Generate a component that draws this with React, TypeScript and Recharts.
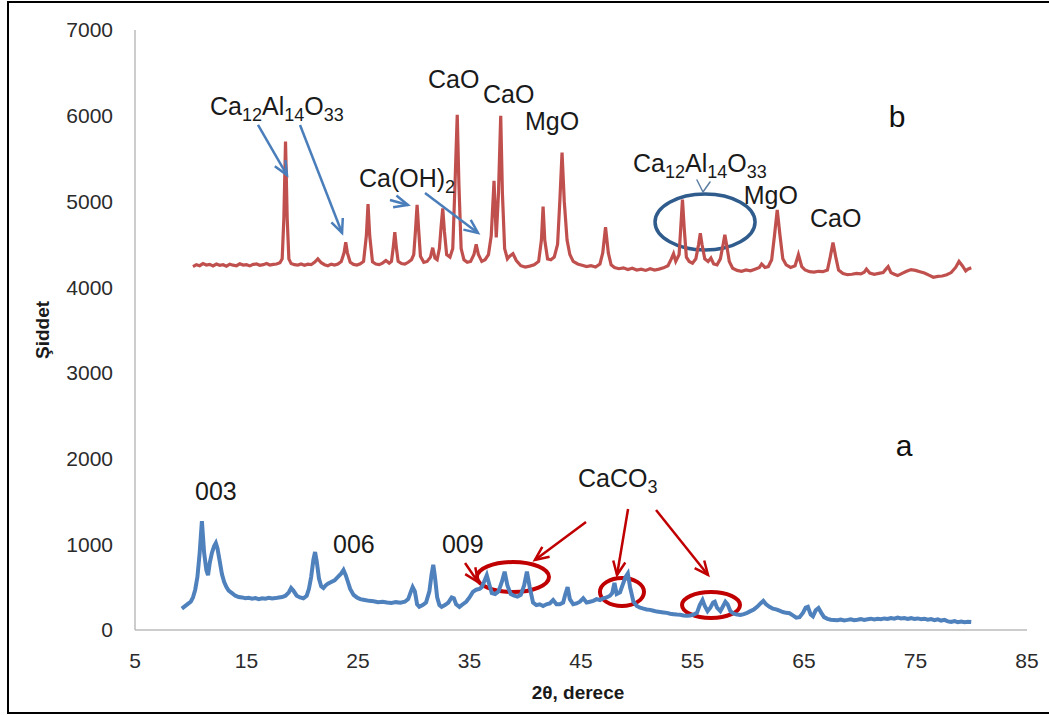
import React from 'react';
import { LineChart, Line, XAxis, YAxis, ReferenceLine, ReferenceDot, ReferenceArea } from 'recharts';

// 2θ (deg), intensity — pattern b (calcined, red)
const patternB: number[][] = [
  [10.2, 4240], [10.5, 4262], [10.8, 4250], [11.1, 4275], [11.4, 4258], [11.7, 4266], [12.0, 4248], [12.3, 4270],
  [12.6, 4255], [12.9, 4262], [13.2, 4245], [13.5, 4268], [13.8, 4256], [14.1, 4250], [14.4, 4272], [14.7, 4258],
  [15.0, 4262], [15.3, 4248], [15.6, 4266], [15.9, 4270], [16.2, 4255], [16.5, 4262], [16.8, 4275], [17.1, 4258],
  [17.4, 4266], [17.7, 4270], [18.0, 4285], [18.2, 4330], [18.35, 4800], [18.5, 5700], [18.65, 4800], [18.8, 4330],
  [19.0, 4275], [19.3, 4262], [19.6, 4258], [19.9, 4270], [20.2, 4255], [20.5, 4268], [20.8, 4262], [21.1, 4290],
  [21.4, 4330], [21.7, 4285], [22.0, 4262], [22.3, 4250], [22.6, 4268], [22.9, 4258], [23.2, 4270], [23.5, 4300],
  [23.75, 4400], [23.9, 4525], [24.05, 4400], [24.3, 4290], [24.6, 4265], [24.9, 4258], [25.2, 4272], [25.5, 4300],
  [25.75, 4600], [25.9, 4970], [26.05, 4600], [26.3, 4295], [26.6, 4270], [26.9, 4262], [27.2, 4280], [27.5, 4310],
  [27.8, 4280], [28.0, 4300], [28.15, 4450], [28.3, 4640], [28.45, 4450], [28.6, 4300], [28.9, 4275], [29.2, 4268],
  [29.5, 4290], [29.8, 4320], [30.0, 4380], [30.15, 4650], [30.3, 4960], [30.45, 4650], [30.6, 4360], [30.9, 4290],
  [31.2, 4300], [31.5, 4350], [31.7, 4460], [31.9, 4340], [32.1, 4320], [32.3, 4450], [32.45, 4700], [32.6, 4920],
  [32.75, 4650], [32.95, 4380], [33.25, 4350], [33.5, 4450], [33.7, 5200], [33.9, 6010], [34.05, 5200], [34.25, 4450],
  [34.5, 4320], [34.8, 4290], [35.1, 4300], [35.4, 4380], [35.6, 4500], [35.8, 4380], [36.1, 4300], [36.4, 4320],
  [36.7, 4380], [36.95, 4600], [37.2, 5240], [37.4, 4580], [37.6, 5100], [37.8, 6000], [37.95, 5100], [38.15, 4450],
  [38.4, 4330], [38.6, 4360], [38.9, 4390], [39.2, 4310], [39.6, 4250], [40.0, 4235], [40.4, 4245], [40.8, 4260],
  [41.2, 4300], [41.45, 4550], [41.6, 4940], [41.75, 4550], [42.0, 4330], [42.3, 4320], [42.6, 4350], [42.9, 4500],
  [43.1, 5000], [43.3, 5570], [43.5, 5000], [43.75, 4550], [44.0, 4380], [44.3, 4300], [44.7, 4270], [45.1, 4255],
  [45.5, 4240], [45.9, 4250], [46.3, 4235], [46.7, 4270], [46.95, 4400], [47.2, 4700], [47.45, 4400], [47.7, 4260],
  [48.0, 4230], [48.4, 4215], [48.8, 4225], [49.2, 4205], [49.6, 4220], [50.0, 4200], [50.4, 4210], [50.8, 4195],
  [51.2, 4215], [51.6, 4200], [52.0, 4210], [52.4, 4225], [52.8, 4250], [53.1, 4330], [53.3, 4390], [53.5, 4300],
  [53.8, 4380], [53.95, 4700], [54.1, 5020], [54.25, 4700], [54.45, 4350], [54.7, 4300], [55.0, 4280], [55.3, 4330],
  [55.55, 4500], [55.7, 4630], [55.85, 4500], [56.1, 4330], [56.4, 4300], [56.65, 4340], [56.9, 4270], [57.2, 4260],
  [57.5, 4330], [57.75, 4500], [57.9, 4610], [58.05, 4500], [58.3, 4300], [58.6, 4220], [59.0, 4195], [59.4, 4185],
  [59.8, 4200], [60.2, 4190], [60.6, 4210], [61.0, 4230], [61.2, 4270], [61.5, 4230], [61.8, 4240], [62.1, 4320],
  [62.35, 4600], [62.6, 4900], [62.85, 4600], [63.1, 4330], [63.4, 4260], [63.8, 4230], [64.2, 4250], [64.5, 4380],
  [64.8, 4240], [65.1, 4200], [65.5, 4180], [65.9, 4175], [66.3, 4185], [66.7, 4180], [67.1, 4200], [67.35, 4350],
  [67.6, 4520], [67.85, 4350], [68.1, 4200], [68.5, 4160], [68.9, 4145], [69.3, 4150], [69.7, 4160], [70.1, 4155],
  [70.4, 4175], [70.6, 4210], [70.9, 4165], [71.3, 4150], [71.7, 4160], [72.1, 4170], [72.35, 4210], [72.55, 4240],
  [72.8, 4170], [73.1, 4150], [73.4, 4135], [73.8, 4160], [74.2, 4185], [74.6, 4205], [75.0, 4195], [75.4, 4180],
  [75.8, 4165], [76.2, 4140], [76.6, 4115], [77.0, 4125], [77.4, 4130], [77.8, 4145], [78.2, 4170], [78.6, 4230],
  [78.9, 4300], [79.2, 4250], [79.5, 4190], [79.7, 4210], [80.0, 4225],
];

// 2θ (deg), intensity — pattern a (raw, blue)
const patternA: number[][] = [
  [9.2, 250], [9.4, 270], [9.6, 290], [9.8, 310], [10.0, 330], [10.2, 380], [10.4, 470], [10.6, 620],
  [10.8, 900], [11.0, 1270], [11.2, 900], [11.4, 700], [11.55, 640], [11.7, 780], [11.9, 900], [12.1, 980],
  [12.25, 1015], [12.4, 950], [12.6, 800], [12.8, 650], [13.0, 560], [13.2, 500], [13.4, 460], [13.7, 430],
  [14.0, 400], [14.3, 385], [14.6, 380], [14.9, 370], [15.2, 375], [15.5, 365], [15.8, 372], [16.1, 360],
  [16.4, 370], [16.7, 365], [17.0, 375], [17.3, 368], [17.6, 372], [17.9, 380], [18.2, 385], [18.5, 400],
  [18.8, 440], [19.0, 490], [19.2, 460], [19.5, 400], [19.8, 380], [20.1, 370], [20.4, 400], [20.6, 480],
  [20.8, 620], [21.0, 820], [21.15, 910], [21.3, 800], [21.5, 600], [21.7, 510], [21.9, 490], [22.1, 520],
  [22.3, 540], [22.6, 560], [22.9, 580], [23.2, 620], [23.5, 660], [23.7, 700], [23.9, 640], [24.1, 560],
  [24.3, 480], [24.6, 410], [24.9, 380], [25.2, 360], [25.6, 350], [26.0, 340], [26.4, 335], [26.8, 325],
  [27.2, 330], [27.6, 320], [28.0, 315], [28.4, 325], [28.8, 318], [29.2, 330], [29.5, 360], [29.75, 450],
  [29.9, 500], [30.1, 450], [30.3, 300], [30.5, 270], [30.8, 290], [31.1, 320], [31.4, 450], [31.6, 650],
  [31.75, 760], [31.9, 620], [32.1, 380], [32.3, 290], [32.5, 270], [32.8, 290], [33.1, 320], [33.4, 380],
  [33.6, 370], [33.8, 300], [34.1, 270], [34.4, 300], [34.7, 330], [35.0, 380], [35.3, 445], [35.6, 470],
  [35.9, 480], [36.1, 500], [36.3, 560], [36.55, 640], [36.8, 520], [37.0, 430], [37.3, 420], [37.6, 450],
  [37.9, 560], [38.15, 680], [38.4, 520], [38.7, 420], [39.0, 400], [39.3, 390], [39.6, 410], [39.9, 520],
  [40.15, 680], [40.4, 500], [40.7, 320], [41.0, 290], [41.3, 300], [41.6, 280], [41.9, 300], [42.2, 310],
  [42.5, 350], [42.8, 300], [43.1, 300], [43.4, 320], [43.6, 420], [43.8, 500], [44.0, 360], [44.3, 300],
  [44.6, 310], [44.9, 330], [45.2, 370], [45.5, 320], [45.8, 330], [46.1, 340], [46.4, 360], [46.7, 350],
  [47.0, 370], [47.3, 380], [47.6, 400], [47.8, 430], [48.0, 550], [48.2, 420], [48.5, 440], [48.8, 550],
  [49.0, 620], [49.2, 660], [49.4, 500], [49.7, 330], [50.0, 280], [50.3, 260], [50.6, 250], [50.9, 240],
  [51.2, 235], [51.5, 225], [51.8, 215], [52.1, 210], [52.4, 205], [52.7, 200], [53.0, 190], [53.3, 185],
  [53.6, 180], [53.9, 178], [54.2, 170], [54.5, 165], [54.8, 170], [55.1, 180], [55.4, 200], [55.65, 290],
  [55.9, 350], [56.1, 280], [56.35, 220], [56.6, 260], [56.85, 320], [57.0, 330], [57.2, 260], [57.5, 220],
  [57.75, 280], [57.95, 330], [58.15, 300], [58.4, 220], [58.7, 190], [59.0, 180], [59.3, 175], [59.6, 185],
  [59.9, 200], [60.2, 220], [60.5, 240], [60.8, 270], [61.1, 310], [61.35, 340], [61.6, 300], [61.9, 270],
  [62.2, 250], [62.5, 240], [62.8, 225], [63.1, 210], [63.4, 200], [63.7, 195], [64.0, 170], [64.3, 145],
  [64.6, 150], [64.9, 200], [65.15, 260], [65.35, 270], [65.6, 180], [65.8, 160], [66.05, 230], [66.3, 257],
  [66.55, 200], [66.8, 150], [67.1, 130], [67.4, 120], [67.7, 118], [68.0, 115], [68.3, 122], [68.6, 112],
  [68.9, 118], [69.2, 125], [69.5, 115], [69.8, 120], [70.1, 128], [70.4, 118], [70.7, 125], [71.0, 132],
  [71.3, 122], [71.6, 130], [71.9, 125], [72.2, 135], [72.5, 128], [72.8, 140], [73.1, 132], [73.4, 145],
  [73.7, 135], [74.0, 140], [74.3, 130], [74.6, 138], [74.9, 128], [75.2, 135], [75.5, 125], [75.8, 132],
  [76.1, 120], [76.4, 128], [76.7, 115], [77.0, 125], [77.3, 110], [77.6, 118], [77.9, 100], [78.2, 95],
  [78.5, 105], [78.8, 92], [79.1, 98], [79.4, 90], [79.7, 96], [80.0, 92],
];

const xTicks = [5, 15, 25, 35, 45, 55, 65, 75, 85];
const yTicks = [0, 1000, 2000, 3000, 4000, 5000, 6000, 7000];

// annotation text: [2θ, intensity, segments ([text, isSubscript])]
const labels: [number, number, [string, number][]][] = [
  [11.73, 6008, [['Ca', 0], ['12', 1], ['Al', 0], ['14', 1], ['O', 0], ['33', 1]]],
  [25.09, 5168, [['Ca(OH)', 0], ['2', 1]]],
  [31.28, 6323, [['CaO', 0]]],
  [36.21, 6148, [['CaO', 0]]],
  [39.98, 5833, [['MgO', 0]]],
  [49.66, 5343, [['Ca', 0], ['12', 1], ['Al', 0], ['14', 1], ['O', 0], ['33', 1]]],
  [59.6, 4975, [['MgO', 0]]],
  [65.54, 4702, [['CaO', 0]]],
  [10.38, 1517, [['003', 0]]],
  [22.76, 898, [['006', 0]]],
  [32.53, 898, [['009', 0]]],
  [44.73, 1668, [['CaCO', 0], ['3', 1]]],
];
const seriesTags: [number, number, string][] = [
  [73.34, 5868, 'b'],
  [73.97, 2030, 'a'],
];
// arrows: [x1, y1, x2, y2]
const blueArrows: number[][] = [
  [16.03, 5892, 18.63, 5308],
  [19.8, 5892, 23.57, 4632],
  [27.87, 5017, 29.48, 4958],
  [31.01, 5098, 35.76, 4632],
];
const redArrows: number[][] = [
  [34.6, 782, 35.76, 560],
  [45.45, 1260, 40.87, 817],
  [49.22, 1412, 48.23, 642],
  [51.73, 1400, 56.39, 642],
];
const chevron: number[][] = [
  [55.4, 5250, 55.94, 5110],
  [55.94, 5110, 56.57, 5227],
];
// ellipses: [x1, x2, y1, y2]
const blueEllipses: number[][] = [[51.64, 60.61, 4433, 5087]];
const redEllipses: number[][] = [
  [35.67, 42.13, 443, 793],
  [46.7, 50.65, 280, 607],
  [54.06, 59.26, 140, 443],
];

const dataB = patternB.map(([t, v]) => ({ t, v }));
const dataA = patternA.map(([t, v]) => ({ t, v }));

const FONT = "'Liberation Sans', Arial, Helvetica, sans-serif";
const BLUE = '#4F81BD';
const RED = '#C0504D';
const ANN_BLUE = '#4A7EBB';
const ANN_RED = '#C00000';
const ELL_BLUE = '#2F5C8C';

const makeArrow = (color: string, w: number) => (props: any) => {
  const { x1, y1, x2, y2 } = props;
  const ang = Math.atan2(y2 - y1, x2 - x1);
  const L = 15;
  const a = 0.42;
  const p1x = x2 - L * Math.cos(ang - a);
  const p1y = y2 - L * Math.sin(ang - a);
  const p2x = x2 - L * Math.cos(ang + a);
  const p2y = y2 - L * Math.sin(ang + a);
  return (
    <g>
      <line x1={x1} y1={y1} x2={x2} y2={y2} stroke={color} strokeWidth={w} />
      <polyline points={`${p1x},${p1y} ${x2},${y2} ${p2x},${p2y}`} fill="none" stroke={color} strokeWidth={w} />
    </g>
  );
};

const plainSeg = (color: string, w: number) => (props: any) => {
  const { x1, y1, x2, y2 } = props;
  return <line x1={x1} y1={y1} x2={x2} y2={y2} stroke={color} strokeWidth={w} strokeLinecap="round" />;
};

const makeEllipse = (color: string, w: number) => (props: any) => {
  const { x, y, width, height } = props;
  return (
    <ellipse cx={x + width / 2} cy={y + height / 2} rx={Math.abs(width) / 2} ry={Math.abs(height) / 2}
      fill="none" stroke={color} strokeWidth={w} />
  );
};

const makeText = (segs: [string, number][]) => (props: any) => {
  const { cx, cy } = props;
  const parts: any[] = [];
  let prevSub = 0;
  segs.forEach(([s, sub], i) => {
    const dy = sub === prevSub ? 0 : sub ? 6 : -6;
    parts.push(
      <tspan key={i} fontSize={sub ? 18 : 25} dy={dy}>{s}</tspan>
    );
    prevSub = sub;
  });
  return (
    <text x={cx} y={cy} fill="#1a1a1a" fontFamily={FONT} textAnchor="start">{parts}</text>
  );
};

const makeTag = (s: string) => (props: any) => {
  const { cx, cy } = props;
  return (
    <text x={cx} y={cy} fill="#111" fontFamily={FONT} fontSize={30} textAnchor="middle">{s}</text>
  );
};

export default function App() {
  return (
    <div style={{ position: 'absolute', left: 0, top: 0, width: 1049, height: 715, overflow: 'hidden', background: '#fff' }}>
      <div style={{ position: 'absolute', left: 7, top: 1, width: 1100, height: 713, boxSizing: 'border-box', border: '2px solid #000' }} />
      <div style={{ position: 'absolute', left: 0, top: 0 }}>
        <LineChart width={1049} height={715} margin={{ top: 30, right: 22, bottom: 0, left: 0 }}>
          <XAxis
            dataKey="t"
            type="number"
            domain={[5, 85]}
            ticks={xTicks}
            allowDataOverflow
            height={85}
            axisLine={{ stroke: '#BBBBBB', strokeWidth: 1.5 }}
            tickLine={false}
            tickSize={0}
            tickMargin={23}
            tick={{ fill: '#2b2b2b', fontSize: 21, fontFamily: FONT }}
            label={{
              content: (p: any) => {
                const vb = p.viewBox;
                return (
                  <text x={vb.x + vb.width / 2 - 3} y={699} textAnchor="middle" fontFamily={FONT} fontSize={19} fontWeight="bold" fill="#1a1a1a">
                    2θ, derece
                  </text>
                );
              },
            }}
          />
          <YAxis
            type="number"
            domain={[0, 7000]}
            ticks={yTicks}
            width={135}
            axisLine={{ stroke: '#BBBBBB', strokeWidth: 1.5 }}
            tickLine={false}
            tickSize={0}
            tickMargin={22}
            tick={{ fill: '#2b2b2b', fontSize: 21, fontFamily: FONT }}
            label={{
              content: (p: any) => {
                const vb = p.viewBox;
                const cy = vb.y + vb.height / 2;
                return (
                  <text x={49} y={cy} transform={`rotate(-90, 49, ${cy})`} textAnchor="middle" fontFamily={FONT} fontSize={19} fontWeight="bold" fill="#1a1a1a">
                    Şiddet
                  </text>
                );
              },
            }}
          />
          <Line data={dataB} dataKey="v" type="linear" stroke={RED} strokeWidth={3.2} dot={false} isAnimationActive={false} />
          <Line data={dataA} dataKey="v" type="linear" stroke={BLUE} strokeWidth={4} dot={false} isAnimationActive={false} />
          {blueEllipses.map(([x1, x2, y1, y2], i) => (
            <ReferenceArea key={'be' + i} x1={x1} x2={x2} y1={y1} y2={y2} shape={makeEllipse(ELL_BLUE, 3.5)} />
          ))}
          {redEllipses.map(([x1, x2, y1, y2], i) => (
            <ReferenceArea key={'re' + i} x1={x1} x2={x2} y1={y1} y2={y2} shape={makeEllipse(ANN_RED, 4)} />
          ))}
          {blueArrows.map(([x1, y1, x2, y2], i) => (
            <ReferenceLine key={'ba' + i} segment={[{ x: x1, y: y1 }, { x: x2, y: y2 }]} shape={makeArrow(ANN_BLUE, 2.5)} />
          ))}
          {redArrows.map(([x1, y1, x2, y2], i) => (
            <ReferenceLine key={'ra' + i} segment={[{ x: x1, y: y1 }, { x: x2, y: y2 }]} shape={makeArrow(ANN_RED, 2.5)} />
          ))}
          {chevron.map(([x1, y1, x2, y2], i) => (
            <ReferenceLine key={'cv' + i} segment={[{ x: x1, y: y1 }, { x: x2, y: y2 }]} shape={plainSeg('#5E7FA3', 1.5)} />
          ))}
          {labels.map(([x, y, segs], i) => (
            <ReferenceDot key={'lb' + i} x={x} y={y} r={1} shape={makeText(segs)} />
          ))}
          {seriesTags.map(([x, y, s], i) => (
            <ReferenceDot key={'tg' + i} x={x} y={y} r={1} shape={makeTag(s)} />
          ))}
        </LineChart>
      </div>
    </div>
  );
}
